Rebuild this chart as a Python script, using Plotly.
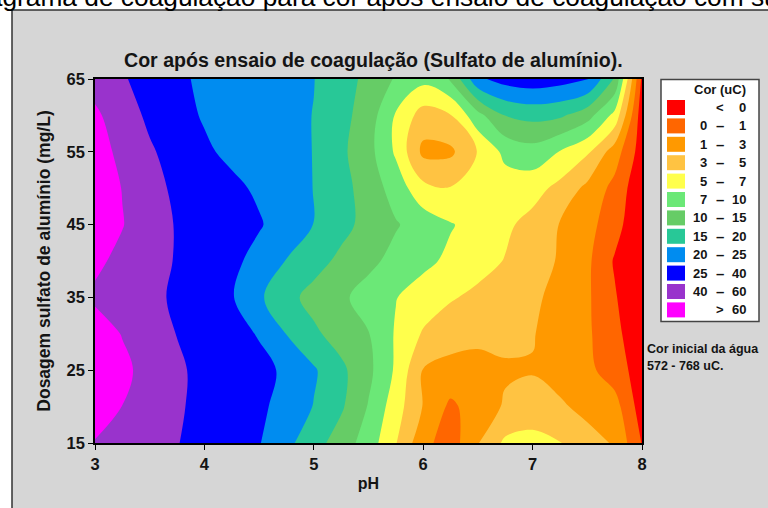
import numpy as np
import plotly.graph_objects as go

# Grid of the coagulation test: pH (columns) x aluminium sulphate dose (rows)
ph = [3.0, 3.25, 3.5, 3.75, 4.0, 4.25, 4.5, 4.75, 5.0, 5.25, 5.5,
      5.75, 6.0, 6.25, 6.5, 6.75, 7.0, 7.25, 7.5, 7.75, 8.0]
dose = [15, 20, 25, 30, 35, 40, 45, 50, 55, 60, 65]

# Apparent colour after coagulation (uC), one row per dose
cor_15 = [59, 53, 46.8, 40.6, 35.7, 30.6, 25.8, 21.3, 17, 12.6, 8.6, 5.1, 1.6, 0.5, 2.9, 5.4, 5.8, 5.1, 3.8, 2.8, -0.05]
cor_20 = [68.8, 59.8, 50.8, 42, 36.6, 32.1, 27.6, 23.4, 19.8, 15.7, 9.8, 5.9, 2.9, 0.8, 2, 3.2, 3.6, 3.3, 2.4, 1.8, -0.5]
cor_25 = [75.2, 64.4, 53.2, 42.4, 36.9, 32.7, 28.5, 24.3, 20.6, 16.1, 11.2, 6.7, 2.9, 2.4, 2.3, 2.8, 2.9, 2.2, 1.5, 0.5, -0.5]
cor_30 = [69, 59.2, 49, 39.7, 34.8, 29.5, 24.7, 19.9, 15.9, 12.9, 10.2, 6.8, 4.8, 3.8, 3.5, 3.4, 3.1, 2.2, 1.3, 0.3, -0.8]
cor_35 = [57, 51, 44.4, 37.9, 32.2, 26.2, 20.8, 16.5, 13.4, 10.9, 8.8, 7.1, 6.1, 5.2, 4.5, 3.9, 3.3, 2.5, 1.3, 0.1, -1.0]
cor_40 = [63.6, 55.4, 46.8, 39, 33.7, 28.2, 23.5, 19.8, 16.8, 13.9, 11.2, 9.1, 7.7, 6.6, 5.8, 4.9, 3.9, 2.8, 1.4, -0.1, -1.0]
cor_45 = [72.6, 60.8, 48.6, 39, 34.8, 30.4, 26.2, 22.9, 19.9, 16.5, 13.4, 10.4, 8.7, 7.2, 6.3, 5.4, 4.3, 2.9, 1.7, 0.4, -0.9]
cor_50 = [72.6, 59.4, 45.8, 37.5, 32.8, 28, 24.3, 22.1, 19.9, 16.7, 12.8, 8.7, 5.6, 5.1, 5.6, 6, 5.8, 4.4, 2.5, 0.7, -0.8]
cor_55 = [68, 55.4, 42.4, 34.2, 27.1, 24, 22.7, 21.3, 19.9, 16, 11.7, 6.7, 2.5, 2.6, 5.1, 7.8, 8.8, 6.9, 5.3, 2, -0.5]
cor_60 = [63.6, 49.4, 37.2, 29.5, 24.6, 23.4, 22.3, 21.1, 19.9, 16.6, 12.6, 6.8, 4.1, 4.9, 9.0, 15.1, 16.5, 15.8, 12, 6.4, -0.6]
cor_65 = [52, 42, 34.2, 27.1, 24.3, 23.2, 22.2, 21.1, 20.1, 17.1, 13.7, 9.7, 7.9, 10.3, 24, 31, 34, 31, 26.5, 14.5, -0.2]

# Class limits (uC) and their legend entries / colours
levels = [0, 1, 3, 5, 7, 10, 15, 20, 25, 40, 60]
class_left = ["", "0", "1", "3", "5", "7", "10", "15", "20", "25", "40", ""]
class_mid = ["<", "\u2013", "\u2013", "\u2013", "\u2013", "\u2013", "\u2013", "\u2013", "\u2013", "\u2013", "\u2013", ">"]
class_right = ["0", "1", "3", "5", "7", "10", "15", "20", "25", "40", "60", "60"]
class_colors = ["#ff0000", "#ff6600", "#ff9900", "#ffc342", "#ffff4c", "#6be877",
                "#66cc66", "#28c897", "#008cf0", "#0000ff", "#9933cc", "#ff00ff"]

z = np.array([cor_15, cor_20, cor_25, cor_30, cor_35, cor_40,
              cor_45, cor_50, cor_55, cor_60, cor_65], dtype=float)

# Map the unequal class limits onto an evenly spaced class index so that
# plotly's uniform contour spacing reproduces the legend classes.
k = np.arange(len(levels), dtype=float)
zi = np.interp(z, levels, k)
zi = np.where(z < levels[0], z - levels[0], zi)
zi = np.where(z > levels[-1], k[-1] + (z - levels[-1]) / 20.0, zi)

n = len(class_colors)
colorscale = [[i / (n - 1), c] for i, c in enumerate(class_colors)]

FONT = "Liberation Sans"
INK = "#141414"

fig = go.Figure()
fig.add_trace(go.Contour(
    x=ph, y=dose, z=zi,
    autocontour=False,
    contours=dict(start=0, end=len(levels) - 1, size=1, coloring="fill", showlines=False),
    colorscale=colorscale,
    line=dict(width=0, smoothing=1.0),
    showscale=False,
    hoverinfo="skip",
))

# Plot-area geometry in pixels (used to place the furniture around it)
L, R, T, B = 95, 642, 79, 443
W, H = R - L, B - T


def px(x):
    return (x - L) / W


def py(y):
    return (B - y) / H


shapes = []
annotations = []

# grey panel with dark frame
shapes.append(dict(type="rect", xref="paper", yref="paper",
                   x0=px(12), x1=px(800), y0=py(540), y1=py(10),
                   fillcolor="#d6d6d6", line=dict(color="#333333", width=1.5),
                   layer="below"))

# legend box
shapes.append(dict(type="rect", xref="paper", yref="paper",
                   x0=px(661), x1=px(759), y0=py(321.5), y1=py(79.5),
                   fillcolor="#ffffff", line=dict(color="#444444", width=1.5)))
annotations.append(dict(xref="paper", yref="paper", x=px(720), y=py(89),
                        text="Cor (uC)", showarrow=False, xanchor="center", yanchor="middle",
                        font=dict(family=FONT, size=13, color=INK, weight="bold")))
pitch = 18.4
for i, c in enumerate(class_colors):
    top = 100 + pitch * i
    shapes.append(dict(type="rect", xref="paper", yref="paper",
                       x0=px(667), x1=px(685), y0=py(top + 15), y1=py(top),
                       fillcolor=c, line=dict(width=0)))
    yc = py(top + 7.5)
    if class_left[i]:
        annotations.append(dict(xref="paper", yref="paper", x=px(709), y=yc,
                                text=class_left[i], showarrow=False,
                                xanchor="right", yanchor="middle",
                                font=dict(family=FONT, size=13, color=INK, weight="bold")))
    annotations.append(dict(xref="paper", yref="paper", x=px(720), y=yc,
                            text=class_mid[i], showarrow=False,
                            xanchor="center", yanchor="middle",
                            font=dict(family=FONT, size=15 if class_mid[i] == "\u2013" else 13,
                                      color=INK, weight="bold")))
    annotations.append(dict(xref="paper", yref="paper", x=px(748), y=yc,
                            text=class_right[i], showarrow=False,
                            xanchor="right", yanchor="middle",
                            font=dict(family=FONT, size=13, color=INK, weight="bold")))

# note on raw water colour
annotations.append(dict(xref="paper", yref="paper", x=px(645), y=py(349),
                        text="Cor inicial da água", showarrow=False,
                        xanchor="left", yanchor="middle",
                        font=dict(family=FONT, size=12.5, color=INK, weight="bold")))
annotations.append(dict(xref="paper", yref="paper", x=px(645), y=py(366),
                        text="572 - 768 uC.", showarrow=False,
                        xanchor="left", yanchor="middle",
                        font=dict(family=FONT, size=12.5, color=INK, weight="bold")))

# document caption running above the panel
annotations.append(dict(xref="paper", yref="paper", x=px(-39), y=py(-3.3),
                        text="Diagrama de coagulação para cor após ensaio de coagulação com sulfato de alumínio.",
                        showarrow=False, xanchor="left", yanchor="middle",
                        font=dict(family=FONT, size=26.3, color="#000000")))

# chart title
annotations.append(dict(xref="paper", yref="paper", x=px(373.5), y=py(60),
                        text="Cor após ensaio de coagulação (Sulfato de alumínio).",
                        showarrow=False, xanchor="center", yanchor="middle",
                        font=dict(family=FONT, size=19.6, color=INK, weight="bold")))

axis_common = dict(showline=True, linecolor="#000000", linewidth=1.5, mirror=True,
                   ticks="outside", ticklen=5, tickwidth=1.2, tickcolor="#000000",
                   showgrid=False, zeroline=False,
                   tickfont=dict(family=FONT, size=16.5, color=INK, weight="bold"))

fig.update_layout(
    width=768, height=508, autosize=False,
    margin=dict(l=L, r=768 - R, t=T, b=508 - B, pad=0),
    paper_bgcolor="#ffffff", plot_bgcolor="#d6d6d6",
    shapes=shapes, annotations=annotations,
    showlegend=False,
    xaxis=dict(range=[3, 8], tickvals=[3, 4, 5, 6, 7, 8],
               title=dict(text="pH", standoff=6,
                          font=dict(family=FONT, size=16, color=INK, weight="bold")),
               **axis_common),
    yaxis=dict(range=[15, 65], tickvals=[15, 25, 35, 45, 55, 65],
               title=dict(text="Dosagem sulfato de alumínio (mg/L)", standoff=11,
                          font=dict(family=FONT, size=17.5, color=INK, weight="bold")),
               **axis_common),
)

fig.write_html("out.html")
